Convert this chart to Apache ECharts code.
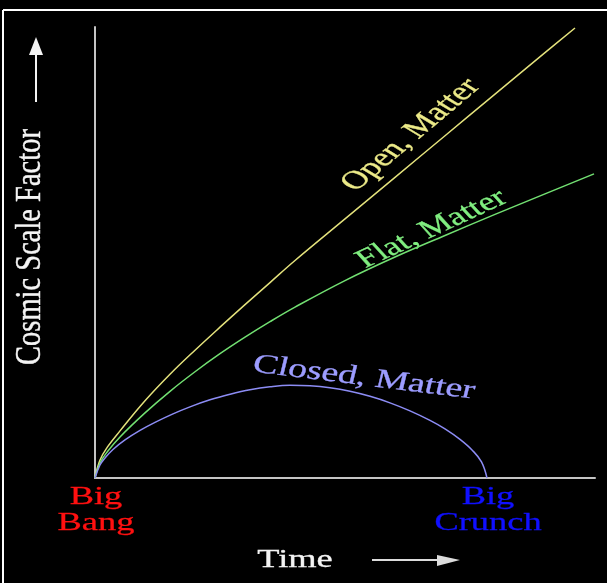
<!DOCTYPE html>
<html>
<head>
<meta charset="utf-8">
<script src="https://cdn.jsdelivr.net/npm/echarts@6/dist/echarts.min.js"></script>
<style>
  html, body { margin: 0; padding: 0; background: #000; }
  #chart { width: 607px; height: 583px; }
</style>
</head>
<body>
<div id="chart"></div>
<script>
// curves (time 0..100, scale factor 0..90)
var openTime  = [0, 1, 2.5, 5, 10, 15, 20, 25, 30, 35, 40, 50, 60, 70, 80, 90, 96];
var openScale = [0, 3.6, 6.2, 9.4, 15.4, 20.7, 25.5, 30.1, 34.6, 39.0, 43.4, 51.7, 60.0, 68.3, 76.6, 84.9, 89.8];

var flatTime  = [0, 1, 2.5, 5, 10, 15, 20, 25, 30, 35, 40, 50, 60, 70, 80, 90, 99.8];
var flatScale = [0, 3.0, 5.3, 8.2, 13.0, 17.3, 21.2, 24.8, 28.1, 31.2, 34.1, 39.4, 44.1, 48.4, 52.6, 56.7, 60.7];

var closedTime  = [0, 1, 2, 3.6, 6, 9, 12, 15.6, 19, 23, 27, 31, 35, 39, 43, 47, 51, 55, 59, 63, 67, 70, 73, 75.5, 77.3, 78.4];
var closedScale = [0, 2.6, 4.0, 5.7, 7.6, 9.5, 11.1, 12.8, 14.2, 15.6, 16.7, 17.6, 18.2, 18.5, 18.4, 18.0, 17.3, 16.3, 15.0, 13.4, 11.5, 9.8, 7.7, 5.5, 3.2, 0];

var curveNames = ['Open, Matter', 'Flat, Matter', 'Closed, Matter'];
var curveColors = ['#e4e27c', '#72e072', '#8c8cf4'];

function zip(xs, ys) {
  return xs.map(function (x, i) { return [x, ys[i]]; });
}

var myChart = echarts.init(document.getElementById('chart'));

// the original picture is stretched sideways, so texts sit in groups with scaleX
function stretched(x, y, rot, text, color, size, sy) {
  return {
    type: 'group', x: x, y: y, scaleX: 1.4, scaleY: sy || 1,
    children: [{
      type: 'text', rotation: rot,
      style: {
        text: text, x: 0, y: 0, fill: color,
        stroke: color, lineWidth: 0.3,
        font: size + 'px "Liberation Serif", serif',
        align: 'center', verticalAlign: 'middle',
        textAlign: 'center', textVerticalAlign: 'middle'
      }
    }]
  };
}

function curve(i, xs, ys) {
  return {
    name: curveNames[i], type: 'line', smooth: 0.4,
    showSymbol: false, clip: false,
    lineStyle: { color: curveColors[i], width: 1.5 },
    data: zip(xs, ys)
  };
}

var option = {
  backgroundColor: '#000',
  animation: false,
  grid: { left: 95, top: 27, width: 500, height: 451 },
  xAxis: {
    type: 'value', min: 0, max: 100,
    axisLine: { show: true, lineStyle: { color: '#c4c4c4', width: 2 } },
    axisTick: { show: false }, axisLabel: { show: false }, splitLine: { show: false }
  },
  yAxis: {
    type: 'value', min: 0, max: 90,
    axisLine: { show: true, lineStyle: { color: '#c4c4c4', width: 2 } },
    axisTick: { show: false }, axisLabel: { show: false }, splitLine: { show: false }
  },
  series: [
    curve(0, openTime, openScale),
    curve(1, flatTime, flatScale),
    curve(2, closedTime, closedScale)
  ],
  graphic: [
    // frame
    { type: 'line', shape: { x1: 3, y1: 10, x2: 607, y2: 10 }, style: { stroke: '#fff', lineWidth: 2 } },
    { type: 'line', shape: { x1: 3, y1: 10, x2: 3, y2: 583 }, style: { stroke: '#fff', lineWidth: 2 } },

    // curve labels
    stretched(411, 135, 0.866, curveNames[0], '#ecea88', 26),
    stretched(432, 229, 0.578, curveNames[1], '#80ee80', 26),
    stretched(364, 378, -0.171, curveNames[2], '#9c9cff', 27),

    // axis titles
    stretched(31, 247, Math.PI / 2, 'Cosmic Scale Factor', '#f4f4f4', 25, 1.14),
    stretched(295, 560, 0, 'Time', '#f4f4f4', 26),

    // big bang / big crunch
    stretched(96, 497, 0, 'Big', '#ff1010', 26),
    stretched(96, 523, 0, 'Bang', '#ff1010', 26),
    stretched(488, 497, 0, 'Big', '#1010ff', 26),
    stretched(488, 523, 0, 'Crunch', '#1010ff', 26),

    // arrows
    { type: 'line', shape: { x1: 36, y1: 102, x2: 36, y2: 54 }, style: { stroke: '#f4f4f4', lineWidth: 2 } },
    { type: 'polygon', shape: { points: [[36, 37], [29, 55], [43, 55]] }, style: { fill: '#f4f4f4' } },
    { type: 'line', shape: { x1: 372, y1: 560, x2: 440, y2: 560 }, style: { stroke: '#dcdcdc', lineWidth: 2 } },
    { type: 'polygon', shape: { points: [[460, 560], [437, 555], [437, 566]] }, style: { fill: '#dcdcdc' } }
  ]
};

myChart.setOption(option);
</script>
</body>
</html>
